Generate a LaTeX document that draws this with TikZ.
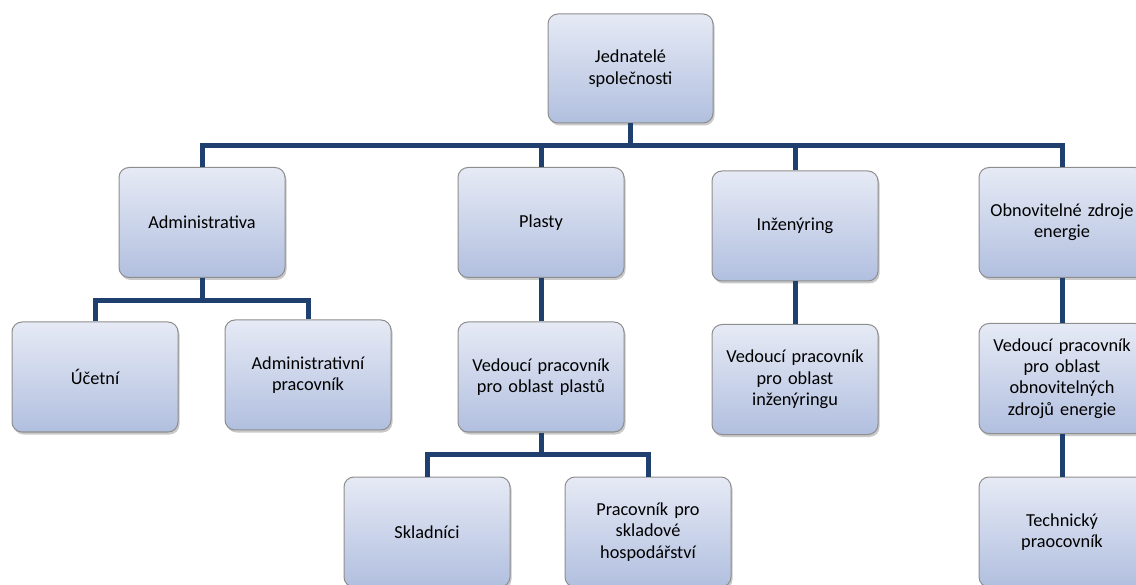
\documentclass[tikz,border=0pt]{standalone}
\usepackage{fontspec}
\setmainfont{Carlito}
\usetikzlibrary{shadows}
\definecolor{boxtop}{HTML}{E6EAF5}
\definecolor{boxbot}{HTML}{B1BFDF}
\definecolor{boxline}{HTML}{8E8E8E}
\definecolor{conn}{HTML}{1F3F6F}
\begin{document}
\begin{tikzpicture}[x=1pt,y=-1pt,
  orgbox/.style={draw=boxline, line width=1pt, rounded corners=10pt,
    top color=boxtop, bottom color=boxbot,
    minimum width=166pt, minimum height=110pt, inner sep=0pt,
    text width=156pt, align=center,
    font=\fontsize{18.3}{21.3}\selectfont,
    drop shadow={shadow xshift=1.5pt, shadow yshift=-2.5pt, opacity=0.35, fill=black!60}},
  link/.style={draw=conn, line width=5pt, line join=miter}]
\useasboundingbox (0,0) rectangle (1136,585);
\fill[white] (0,0) rectangle (1136,585);
\coordinate (bA) at (632,146);
\coordinate (bB) at (203,301);
\coordinate (bC) at (541,454);

\node[orgbox, minimum width=165pt, minimum height=109pt] (top) at (630.5,68.5) {Jednatelé\\společnosti};
\node[orgbox] (admin) at (202,222.5) {Administrativa};
\node[orgbox] (plasty) at (541,222.5) {Plasty};
\node[orgbox] (inz) at (795,226) {Inženýring};
\node[orgbox] (obn) at (1062,222.5) {Obnovitelné zdroje\\energie};
\node[orgbox] (ucet) at (95,377) {Účetní};
\node[orgbox] (admpr) at (308,375) {Administrativní\\pracovník};
\node[orgbox] (vedpl) at (541,377) {Vedoucí pracovník\\pro oblast plastů};
\node[orgbox] (vedinz) at (795,379.5) {Vedoucí pracovník\\pro oblast\\inženýringu};
\node[orgbox] (vedobn) at (1062,378.5) {Vedoucí pracovník\\pro oblast\\obnovitelných\\zdrojů energie};
\node[orgbox] (sklad) at (427,532) {Skladníci};
\node[orgbox] (prsk) at (648,532) {Pracovník pro\\skladové\\hospodářství};
\node[orgbox] (tech) at (1062,532) {Technický\\praocovník};

\draw[link] (top.south) -- (top.south |- bA);
\draw[link] (admin.north) |- (bA) -| (obn.north);
\draw[link] (plasty.north) -- (plasty.north |- bA);
\draw[link] (inz.north) -- (inz.north |- bA);
\draw[link] (admin.south) -- (admin.south |- bB);
\draw[link] (ucet.north) |- (bB) -| (admpr.north);
\draw[link] (plasty.south) -- (vedpl.north);
\draw[link] (inz.south) -- (vedinz.north);
\draw[link] (obn.south) -- (vedobn.north);
\draw[link] (vedpl.south) -- (vedpl.south |- bC);
\draw[link] (sklad.north) |- (bC) -| (prsk.north);
\draw[link] (vedobn.south) -- (tech.north);
\end{tikzpicture}
\end{document}
